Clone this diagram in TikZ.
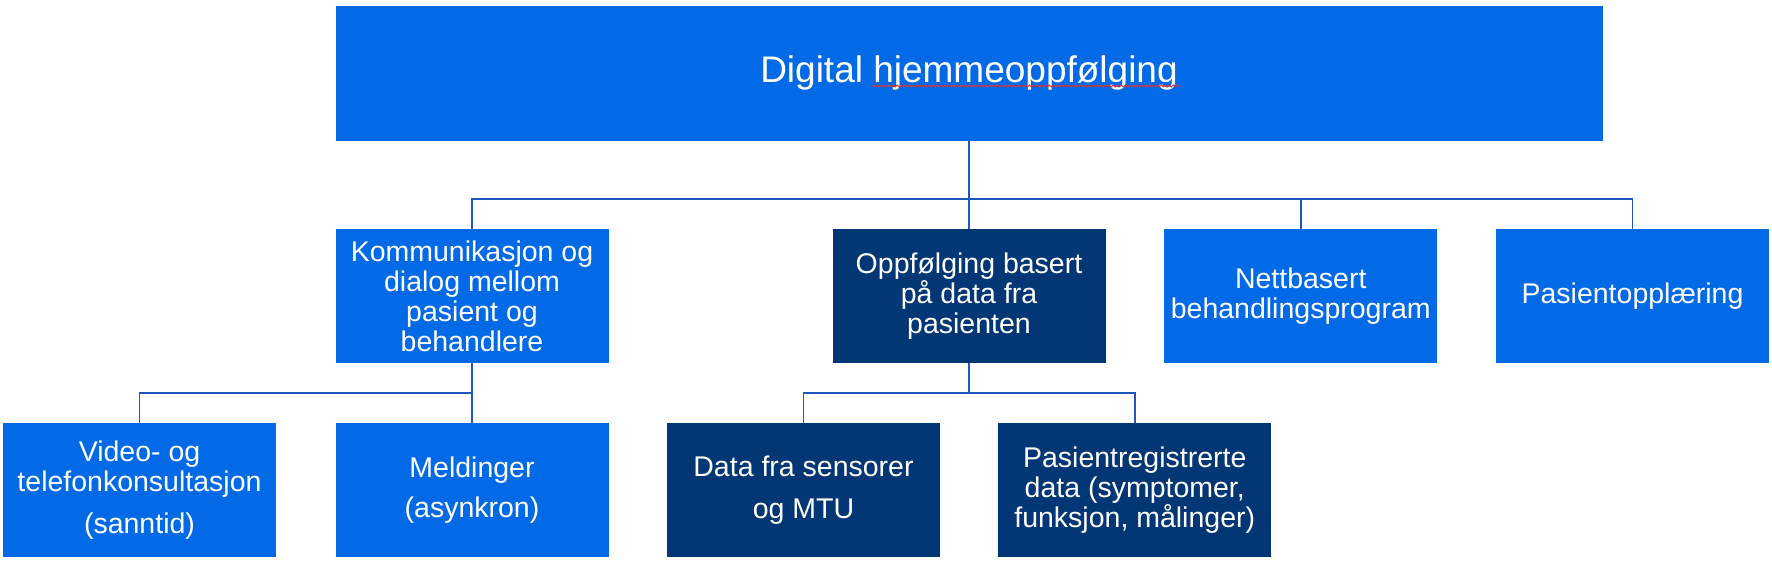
\documentclass[tikz,border=0pt]{standalone}
\usepackage{fontspec}
\setmainfont{Liberation Sans}
\usetikzlibrary{decorations.pathmorphing}
\definecolor{boxblue}{RGB}{2,106,230}
\definecolor{boxnavy}{RGB}{2,54,117}
\definecolor{linkblue}{RGB}{30,88,190}
\definecolor{spellred}{RGB}{225,50,50}
\tikzset{
  box/.style={rectangle, fill=boxblue, text=white, minimum width=273pt, minimum height=134pt, inner sep=0pt, align=center, font=\fontsize{28.5}{30}\selectfont},
  navybox/.style={box, fill=boxnavy},
  conn/.style={draw=linkblue, line width=1.5pt},
}
\begin{document}
\begin{tikzpicture}[x=1pt, y=-1pt]
\useasboundingbox (0,0) rectangle (1772,562);
\node[box, minimum width=1267pt, minimum height=135pt, font=\fontsize{37}{40}\selectfont] (top) at (969,73) {Digital hjemmeoppfølging};
\draw[spellred, line width=0.8pt, decorate, decoration={snake, amplitude=1.1pt, segment length=4pt}] (872,86) -- (1180,86);
% level 1
\node[box] (komm) at (472,296) {Kommunikasjon og\\dialog mellom\\pasient og\\behandlere};
\node[navybox] (oppf) at (969,296) {Oppfølging basert\\på data fra\\pasienten};
\node[box] (nett) at (1300.75,296) {Nettbasert\\behandlingsprogram};
\node[box] (pasopp) at (1632.5,296) {Pasientopplæring};
% level 2
\node[box] (video) at (139.5,490) {Video- og\\telefonkonsultasjon\\[12pt](sanntid)};
\node[box] (meld) at (472,490) {Meldinger\\[10pt](asynkron)};
\node[navybox] (data) at (803.5,490) {Data fra sensorer\\[12pt]og MTU};
\node[navybox] (pasreg) at (1134.75,490) {Pasientregistrerte\\data (symptomer,\\funksjon, målinger)};
% bus points
\path (top.south) ++(0,58.5) coordinate (b1);
\path (komm.south) ++(0,30) coordinate (b2);
\path (oppf.south) ++(0,30) coordinate (b3);
% connectors
\draw[conn] (top.south) -- (oppf.north);
\draw[conn] (b1) -| (komm.north);
\draw[conn] (b1) -| (pasopp.north);
\draw[conn] (b1 -| nett.north) -- (nett.north);
\draw[conn] (komm.south) -- (meld.north);
\draw[conn] (b2) -| (video.north);
\draw[conn] (oppf.south) -- (b3);
\draw[conn] (b3) -| (data.north);
\draw[conn] (b3) -| (pasreg.north);
\end{tikzpicture}
\end{document}
